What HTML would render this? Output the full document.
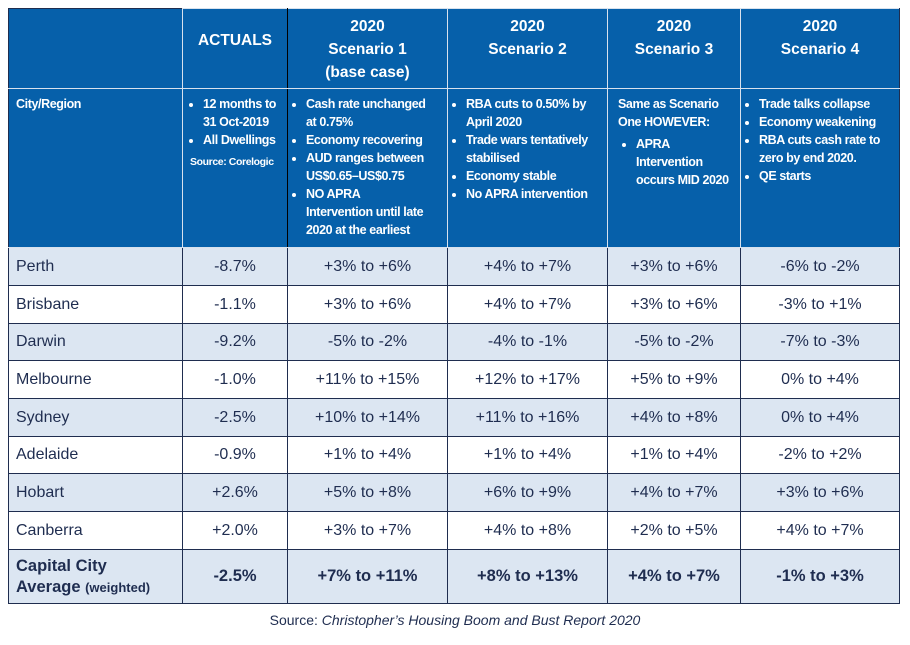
<!DOCTYPE html>
<html><head><meta charset="utf-8">
<style>
body{margin:0;width:910px;height:645px;background:#fff;font-family:"Liberation Sans",Arial,sans-serif;position:relative;overflow:hidden}
table{position:absolute;left:8px;top:8px;width:891px;border-collapse:collapse;table-layout:fixed}
td,th{padding:0;overflow:hidden}
.h td{background:#0660aa;color:#fff;border:1px solid #d8e2ee;vertical-align:top}
.h1 td{font-weight:bold;font-size:15.5px;text-align:center;line-height:23px;padding-top:6px}
.h2 td{font-weight:bold;font-size:12.5px;line-height:18px;padding-top:6px;letter-spacing:-0.4px}
ul{margin:0;padding:0 0 0 18px}
li{margin:0}
.nw{white-space:nowrap}
.d td{border:1px solid #1f2d4f;color:#1f2d50;font-size:16px;text-align:center;vertical-align:middle}
.d td:first-child{text-align:left;padding-left:7px}
.b td{background:#dce6f2}
.w td{background:#fff}
.avg td{font-weight:bold;font-size:16.5px}
.cap{position:absolute;left:0;width:910px;top:612px;text-align:center;font-size:14px;color:#1f2d50}
</style></head><body>
<table>
<colgroup><col style="width:174px"><col style="width:105px"><col style="width:160px"><col style="width:160px"><col style="width:133px"><col style="width:159px"></colgroup>
<tr class="h h1" style="height:80px">
<td style="border-left-color:#1f2d4f;border-top-color:#1f2d4f"></td>
<td style="border-right-color:#000;padding-top:20px">ACTUALS</td>
<td>2020<br>Scenario 1<br>(base case)</td>
<td>2020<br>Scenario 2</td>
<td>2020<br>Scenario 3</td>
<td style="border-right-color:#1f2d4f">2020<br>Scenario 4</td>
</tr>
<tr class="h h2" style="height:159px">
<td style="padding-left:7px;border-left-color:#1f2d4f">City/Region</td>
<td style="border-right-color:#000"><ul style="padding-left:20px"><li class="nw">12 months to<br>31 Oct-2019</li><li class="nw">All Dwellings</li></ul><div style="font-size:10.5px;padding-left:7px;margin-top:4px" class="nw">Source: Corelogic</div></td>
<td><ul><li class="nw">Cash rate unchanged<br>at 0.75%</li><li>Economy recovering</li><li class="nw">AUD ranges between<br>US$0.65–US$0.75</li><li class="nw">NO APRA<br>Intervention until late<br>2020 at the earliest</li></ul></td>
<td><ul><li class="nw">RBA cuts to 0.50% by<br>April 2020</li><li class="nw">Trade wars tentatively<br>stabilised</li><li>Economy stable</li><li class="nw">No APRA intervention</li></ul></td>
<td><div style="padding-left:10px" class="nw">Same as Scenario<br>One HOWEVER:</div><ul style="margin-top:4px;padding-left:28px"><li class="nw">APRA<br>Intervention<br>occurs MID 2020</li></ul></td>
<td style="border-right-color:#1f2d4f"><ul><li class="nw">Trade talks collapse</li><li class="nw">Economy weakening</li><li class="nw">RBA cuts cash rate to<br>zero by end 2020.</li><li>QE starts</li></ul></td>
</tr>
<tr class="d b" style="height:38px"><td>Perth</td><td>-8.7%</td><td>+3% to +6%</td><td>+4% to +7%</td><td>+3% to +6%</td><td>-6% to -2%</td></tr>
<tr class="d w" style="height:38px"><td>Brisbane</td><td>-1.1%</td><td>+3% to +6%</td><td>+4% to +7%</td><td>+3% to +6%</td><td>-3% to +1%</td></tr>
<tr class="d b" style="height:37px"><td>Darwin</td><td>-9.2%</td><td>-5% to -2%</td><td>-4% to -1%</td><td>-5% to -2%</td><td>-7% to -3%</td></tr>
<tr class="d w" style="height:38px"><td>Melbourne</td><td>-1.0%</td><td>+11% to +15%</td><td>+12% to +17%</td><td>+5% to +9%</td><td>0% to +4%</td></tr>
<tr class="d b" style="height:38px"><td>Sydney</td><td>-2.5%</td><td>+10% to +14%</td><td>+11% to +16%</td><td>+4% to +8%</td><td>0% to +4%</td></tr>
<tr class="d w" style="height:37px"><td>Adelaide</td><td>-0.9%</td><td>+1% to +4%</td><td>+1% to +4%</td><td>+1% to +4%</td><td>-2% to +2%</td></tr>
<tr class="d b" style="height:38px"><td>Hobart</td><td>+2.6%</td><td>+5% to +8%</td><td>+6% to +9%</td><td>+4% to +7%</td><td>+3% to +6%</td></tr>
<tr class="d w" style="height:38px"><td>Canberra</td><td>+2.0%</td><td>+3% to +7%</td><td>+4% to +8%</td><td>+2% to +5%</td><td>+4% to +7%</td></tr>
<tr class="d b avg" style="height:54px"><td style="line-height:21px">Capital City<br>Average <span style="font-size:13px">(weighted)</span></td><td>-2.5%</td><td>+7% to +11%</td><td>+8% to +13%</td><td>+4% to +7%</td><td>-1% to +3%</td></tr>
</table>
<div class="cap">Source: <i>Christopher’s Housing Boom and Bust Report 2020</i></div>
</body></html>
